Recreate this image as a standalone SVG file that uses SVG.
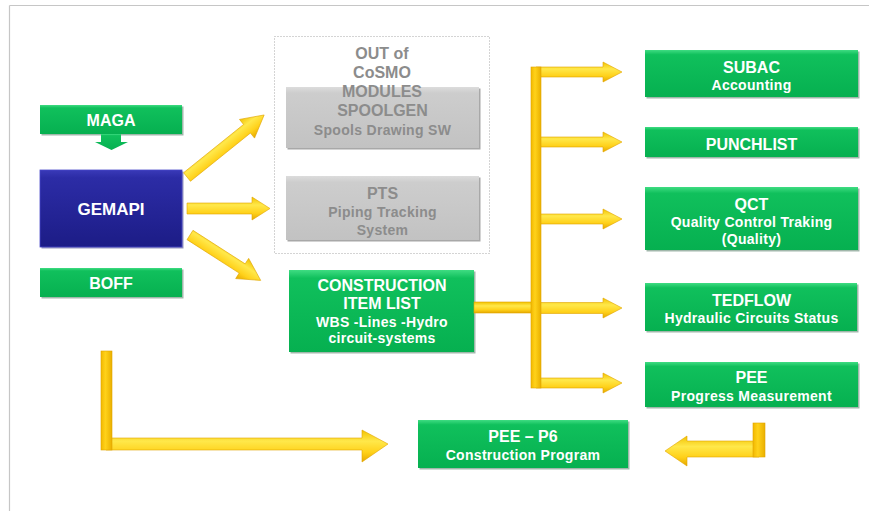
<svg xmlns="http://www.w3.org/2000/svg" width="869" height="511" viewBox="0 0 869 511">
<defs>
<linearGradient id="gGreen" x1="0" y1="0" x2="0" y2="1">
<stop offset="0" stop-color="#3fdc82"/>
<stop offset="0.1" stop-color="#10c05c"/>
<stop offset="1" stop-color="#06b050"/>
</linearGradient>
<linearGradient id="gBlue" x1="0" y1="0" x2="0" y2="1">
<stop offset="0" stop-color="#3a3ab8"/>
<stop offset="0.1" stop-color="#2c2ca6"/>
<stop offset="1" stop-color="#1c1c86"/>
</linearGradient>
<linearGradient id="gGray" x1="0" y1="0" x2="0" y2="1">
<stop offset="0" stop-color="#dcdcdc"/>
<stop offset="0.1" stop-color="#cdcdcd"/>
<stop offset="1" stop-color="#c2c2c2"/>
</linearGradient>
<linearGradient id="gYh" x1="0" y1="0" x2="0" y2="1">
<stop offset="0" stop-color="#f2c200"/>
<stop offset="0.35" stop-color="#ffe84a"/>
<stop offset="0.7" stop-color="#ffd11a"/>
<stop offset="1" stop-color="#e6a800"/>
</linearGradient>
<linearGradient id="gYv" x1="0" y1="0" x2="1" y2="0">
<stop offset="0" stop-color="#f2b800"/>
<stop offset="0.4" stop-color="#ffd21a"/>
<stop offset="1" stop-color="#eab000"/>
</linearGradient>
<style>
.t{font-family:"Liberation Sans",Arial,sans-serif;font-weight:bold;fill:#ffffff;text-anchor:middle}
.g{font-family:"Liberation Sans",Arial,sans-serif;font-weight:bold;fill:#8c8c8c;text-anchor:middle}
.big{font-size:16px}
.sub{font-size:14px;letter-spacing:0.3px}
.green{fill:url(#gGreen)}
.shadow{fill:#8aa596;opacity:0.8}
.yh{fill:url(#gYh);stroke:#e0a400;stroke-width:0.6}
.yv{fill:url(#gYv);stroke:#e0a400;stroke-width:0.6}
</style>
</defs>
<rect width="869" height="511" fill="#ffffff"/>
<g id="frame" stroke="#c6c6c6" stroke-width="1.2" fill="none">
<line x1="9.5" y1="5.5" x2="869" y2="5.5"/>
<line x1="9.5" y1="5.5" x2="9.5" y2="511"/>
</g>

<g id="cosmo-group">
<rect x="274.5" y="36.5" width="215" height="217" fill="none" stroke="#a8a8a8" stroke-width="1" stroke-dasharray="1,2"/>
</g>

<g id="maga">
<rect class="shadow" x="41.5" y="106.5" width="142" height="29"/>
<rect class="green" x="40" y="105" width="142" height="29"/>
<text class="t big" x="111" y="126">MAGA</text>
</g>
<g id="gemapi">
<rect x="41.5" y="171.5" width="142" height="77" fill="#6a6aa0" opacity="0.7"/>
<rect x="40" y="170" width="142" height="77" fill="url(#gBlue)" stroke="#4848c8" stroke-width="0.8"/>
<text class="t" x="111" y="215" font-size="17">GEMAPI</text>
</g>
<g id="boff">
<rect class="shadow" x="41.5" y="269.5" width="142" height="29"/>
<rect class="green" x="40" y="268" width="142" height="29"/>
<text class="t big" x="111" y="289">BOFF</text>
</g>

<g id="spoolgen">
<rect x="287.5" y="88.5" width="193" height="61" fill="#a8a8a8"/>
<rect x="286" y="87" width="193" height="61" fill="url(#gGray)"/>
<text class="g big" x="382.5" y="116">SPOOLGEN</text>
<text class="g sub" x="382.5" y="135">Spools Drawing SW</text>
</g>
<g id="pts">
<rect x="287.5" y="177.5" width="193" height="64" fill="#a8a8a8"/>
<rect x="286" y="176" width="193" height="64" fill="url(#gGray)"/>
<text class="g big" x="382.5" y="199">PTS</text>
<text class="g sub" x="382.5" y="217">Piping Tracking</text>
<text class="g sub" x="382.5" y="235">System</text>
</g>
<g id="cosmo-label">
<text class="g big" x="382" y="59" fill="#7c7c7c">OUT of</text>
<text class="g big" x="382" y="78" fill="#7c7c7c">CoSMO</text>
<text class="g big" x="382" y="97" fill="#7c7c7c">MODULES</text>
</g>

<g id="construction">
<rect class="shadow" x="290.5" y="271.5" width="185" height="82"/>
<rect class="green" x="289" y="270" width="185" height="82"/>
<text class="t big" x="382" y="291">CONSTRUCTION</text>
<text class="t big" x="382" y="309">ITEM LIST</text>
<text class="t sub" x="382" y="327">WBS -Lines -Hydro</text>
<text class="t sub" x="382" y="343">circuit-systems</text>
</g>

<g id="subac">
<rect class="shadow" x="646.5" y="51.5" width="213" height="47"/>
<rect class="green" x="645" y="50" width="213" height="47"/>
<text class="t big" x="751.5" y="73">SUBAC</text>
<text class="t sub" x="751.5" y="90">Accounting</text>
</g>
<g id="punchlist">
<rect class="shadow" x="646.5" y="128.5" width="213" height="30"/>
<rect class="green" x="645" y="127" width="213" height="30"/>
<text class="t big" x="751.5" y="150">PUNCHLIST</text>
</g>
<g id="qct">
<rect class="shadow" x="646.5" y="188.5" width="213" height="63"/>
<rect class="green" x="645" y="187" width="213" height="63"/>
<text class="t big" x="751.5" y="210">QCT</text>
<text class="t sub" x="751.5" y="227">Quality Control Traking</text>
<text class="t sub" x="751.5" y="244">(Quality)</text>
</g>
<g id="tedflow">
<rect class="shadow" x="646.5" y="284.5" width="212" height="48"/>
<rect class="green" x="645" y="283" width="212" height="48"/>
<text class="t big" x="751.5" y="306">TEDFLOW</text>
<text class="t sub" x="751.5" y="323">Hydraulic Circuits Status</text>
</g>
<g id="pee">
<rect class="shadow" x="646.5" y="363.5" width="213" height="45"/>
<rect class="green" x="645" y="362" width="213" height="45"/>
<text class="t big" x="751.5" y="383">PEE</text>
<text class="t sub" x="751.5" y="401">Progress Measurement</text>
</g>
<g id="pee-p6">
<rect class="shadow" x="419.5" y="421.5" width="210" height="48"/>
<rect class="green" x="418" y="420" width="210" height="48"/>
<text class="t big" x="523" y="442">PEE – P6</text>
<text class="t sub" x="523" y="460">Construction Program</text>
</g>

<g id="connectors">
<!-- MAGA to GEMAPI -->
<polygon class="green" points="101,134 121,134 121,142 128,142 111.5,150 95,142 101,142"/>
<!-- GEMAPI arrows -->
<polygon class="yh" transform="translate(187,177) rotate(-38.8)" points="0,-5.5 77,-5.5 77,-12 99,0 77,12 77,5.5 0,5.5"/>
<polygon class="yh" points="187,203 252,203 252,197 270,208.5 252,220 252,214 187,214"/>
<polygon class="yh" transform="translate(190,235) rotate(32.7)" points="0,-5.5 62,-5.5 62,-12 84,0 62,12 62,5.5 0,5.5"/>
<!-- construction trunk and branches -->
<rect class="yh" x="474" y="302" width="62" height="11"/>
<polygon class="yh" points="536,67 603,67 603,62 622,72 603,82 603,77 536,77"/>
<polygon class="yh" points="536,137 603,137 603,132 622,142 603,152 603,147 536,147"/>
<polygon class="yh" points="536,214 603,214 603,209 622,219 603,229 603,224 536,224"/>
<polygon class="yh" points="536,302.5 603,302.5 603,298 622,308 603,318 603,313.5 536,313.5"/>
<polygon class="yh" points="536,378 603,378 603,373 622,383 603,393 603,388 536,388"/>
<rect class="yv" x="531" y="67" width="10" height="321"/>
<!-- bottom left L arrow -->
<polygon class="yh" points="106,438 362,438 362,430 388,444 362,462 362,450 106,450"/>
<rect class="yv" x="101" y="351" width="11" height="99"/>
<!-- right L arrow from PEE -->
<polygon class="yh" points="759,441 687,441 687,436 665,451 687,466 687,457 759,457"/>
<rect class="yv" x="753" y="423" width="12" height="34"/>
</g>
</svg>
